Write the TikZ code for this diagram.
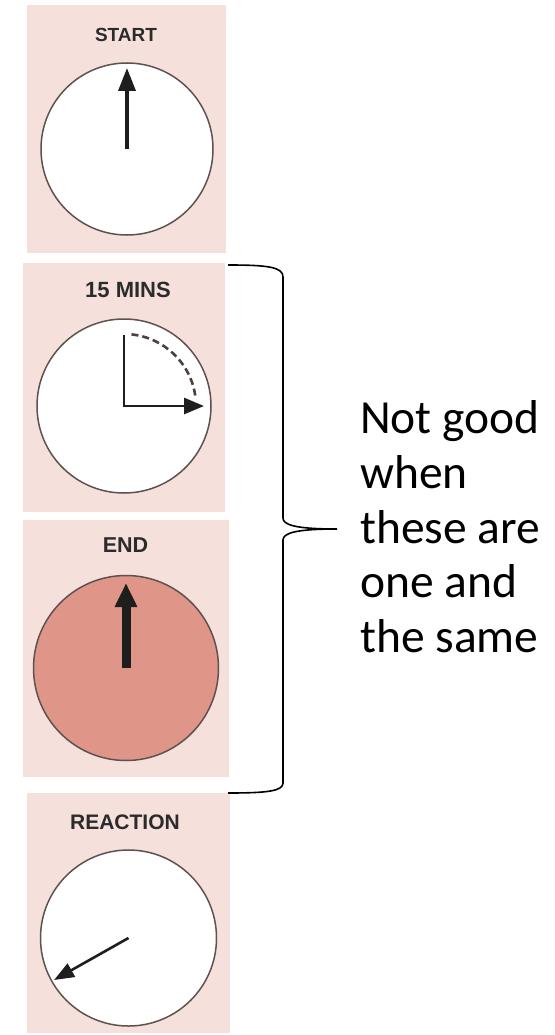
\documentclass[tikz,border=0pt]{standalone}
\usepackage{fontspec}
\setmainfont{Carlito}
\newfontfamily\lblfont{Liberation Sans}
\usetikzlibrary{arrows.meta}
\definecolor{panelpink}{HTML}{F6E0DB}
\definecolor{endfill}{HTML}{DF9587}
\definecolor{rimcol}{HTML}{5E5250}
\definecolor{lblcol}{HTML}{2B2B2B}
\definecolor{handcol}{HTML}{1E1E1E}
\tikzset{
  panel/.style={fill=panelpink, draw=none},
  dial/.style={draw=rimcol, line width=1.5pt},
  lbl/.style={inner sep=0pt, text=lblcol, font=\lblfont\bfseries},
  hand/.style={draw=handcol, line width=#1},
  notetxt/.style={inner sep=0pt, anchor=base west, font=\fontsize{47.5}{55}\selectfont},
  bracebar/.style={draw=black, line width=1.6pt}
}
\begin{document}
\begin{tikzpicture}[x=1pt,y=-1pt]
\useasboundingbox (0,0) rectangle (554,1035);
\fill[white] (0,0) rectangle (554,1035);

% panels
\path[panel] (27,5) rectangle (226,253);
\path[panel] (23,263) rectangle (225,512);
\path[panel] (23,520) rectangle (229,777);
\path[panel] (27,793) rectangle (230,1033);

% START
\node[lbl, font=\lblfont\bfseries\fontsize{19}{21}\selectfont] (lstart) at (126,35) {START};
\coordinate (cstart) at (127,149);
\path[dial, fill=white] (cstart) circle[radius=86];
\coordinate (tstart) at (127,68);
\draw[hand=3.6pt, -{Triangle[length=23pt,width=17pt]}] (cstart) -- (tstart);

% 15 MINS
\node[lbl, font=\lblfont\bfseries\fontsize{22}{24}\selectfont] (lmins) at (128,289.5) {15 MINS};
\coordinate (cmins) at (124,406);
\path[dial, fill=white] (cmins) circle[radius=87];
\coordinate (mtop) at (124,335);
\coordinate (mtip) at (204,406);
\draw[hand=2.8pt, -{Triangle[length=20pt,width=16pt]}] (mtop) -- (cmins) -- (mtip);
\draw[draw=rimcol!80!black, line width=2.6pt, dash pattern=on 7pt off 4pt]
  (cmins) ++(-84:72) arc[start angle=-84, end angle=-8, radius=72];

% END
\node[lbl, font=\lblfont\bfseries\fontsize{21.5}{24}\selectfont] (lend) at (125.5,545.5) {END};
\coordinate (cend) at (126,668);
\path[dial, fill=endfill] (cend) circle[radius=92.5];
\coordinate (tend) at (126,583);
\draw[hand=9pt, -{Triangle[length=24pt,width=21pt]}] (cend) -- (tend);

% REACTION
\node[lbl, font=\lblfont\bfseries\fontsize{21}{24}\selectfont] (lreact) at (125,822.5) {REACTION};
\coordinate (creact) at (128.5,938);
\path[dial, fill=white] (creact) circle[radius=88];
\coordinate (treact) at (54,980);
\draw[hand=2.6pt, -{Triangle[length=20pt,width=15pt]}] (creact) -- (treact);

% brace
\coordinate (bTopL) at (228,265);
\coordinate (bTopC) at (283,277);
\coordinate (bUp) at (283,518);
\coordinate (bTip) at (337,529);
\coordinate (bLo) at (283,540);
\coordinate (bBotC) at (283,783);
\coordinate (bBotL) at (228,793);
\draw[bracebar] (bTopL) .. controls (268,265) and (283,267) .. (bTopC) -- (bUp)
  .. controls (283,525) and (296,529) .. (bTip)
  .. controls (296,529) and (283,533) .. (bLo) -- (bBotC)
  .. controls (283,791) and (268,793) .. (bBotL);

% note text
\node[notetxt] (n1) at (360,433) {Not good};
\node[notetxt] (n2) at (360,488) {when};
\node[notetxt] (n3) at (360,543) {these are};
\node[notetxt] (n4) at (360,597) {one and};
\node[notetxt] (n5) at (360,652) {the same};
\end{tikzpicture}
\end{document}
